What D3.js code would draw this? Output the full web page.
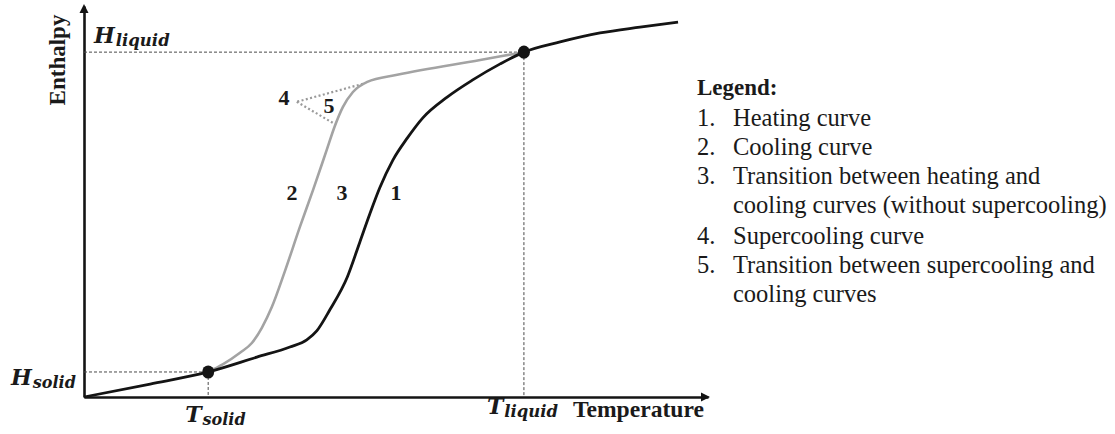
<!DOCTYPE html>
<html>
<head>
<meta charset="utf-8">
<script src="https://cdn.jsdelivr.net/npm/d3@7"></script>
<style>
  html, body { margin: 0; padding: 0; background: #fff; }
  svg { display: block; }
</style>
</head>
<body>
<svg id="chart" width="1115" height="434"></svg>
<script>
// Curve 1: heating curve (temperature, enthalpy), arbitrary units
const heatingT = [0, 10.6, 19.9, 27.7, 33.0, 35.7, 37.3, 39.4, 42.2, 44.2, 45.8, 47.4, 49.5, 51.8, 54.3, 58.2, 62.3, 66.7, 70.5, 76.3, 82.7, 89.1, 95.2];
const heatingH = [0, 3.3, 6.4, 10.2, 12.8, 14.6, 16.9, 22.3, 30.7, 39.6, 46.8, 53.5, 60.6, 66.2, 71.4, 76.7, 81.1, 85.2, 88.2, 90.8, 93.1, 94.6, 95.9];

// Curve 2: cooling curve
const coolingT = [19.9, 22.3, 25.0, 26.9, 28.5, 30.1, 32.2, 34.6, 36.7, 38.9, 40.2, 41.5, 43.1, 45.4, 50.2, 63.5, 70.5];
const coolingH = [6.4, 8.4, 11.3, 13.8, 17.7, 23.0, 32.2, 43.5, 52.9, 63.2, 69.3, 74.2, 78.0, 80.6, 82.4, 86.2, 88.2];

// Curve 4: supercooling, curve 5: return to the cooling curve
const superT = [44.7, 34.1];
const superH = [80.1, 75.5];
const returnT = [34.1, 40.2];
const returnH = [75.5, 69.8];

// Solidus / liquidus points
const solidT = 19.9, solidH = 6.4;
const liquidT = 70.5, liquidH = 88.2;

// Curve numbers drawn next to the curves
const curveNumbers = ["1", "2", "3", "4", "5"];

const legendTitle = "Legend:";
const legendNums = ["1.", "2.", "3.", "", "4.", "5.", ""];
const legendLines = [
  "Heating curve",
  "Cooling curve",
  "Transition between heating and",
  "cooling curves (without supercooling)",
  "Supercooling curve",
  "Transition between supercooling and",
  "cooling curves"
];

const svg = d3.select("#chart");

const x = d3.scaleLinear().domain([0, 100]).range([84, 708]);
const y = d3.scaleLinear().domain([0, 100]).range([397, 6]);

const black = "#141414";
const grey = "#a3a3a3";

// Axes: bare lines without ticks, arrowheads at the ends
svg.append("g")
  .attr("transform", `translate(0,${y(0)})`)
  .call(d3.axisBottom(x).tickValues([]).tickSizeOuter(0))
  .call(g => g.select(".domain").attr("stroke", black).attr("stroke-width", 2.6));
svg.append("g")
  .attr("transform", `translate(${x(0)},0)`)
  .call(d3.axisLeft(y).tickValues([]).tickSizeOuter(0))
  .call(g => g.select(".domain").attr("stroke", black).attr("stroke-width", 2.6));

svg.append("path")
  .attr("d", `M${x(100) + 2},${y(0)} l-9,-4.5 l0,9 z`)
  .attr("fill", black);
svg.append("path")
  .attr("d", `M${x(0)},${y(100) - 2} l-4.5,9 l9,0 z`)
  .attr("fill", black);

// Dashed guide lines to the solidus / liquidus points
const guide = svg.append("g")
  .attr("stroke", "#4a4a4a")
  .attr("stroke-width", 1)
  .attr("stroke-dasharray", "3,2")
  .attr("fill", "none");
guide.append("line").attr("x1", x(0)).attr("x2", x(liquidT)).attr("y1", y(liquidH)).attr("y2", y(liquidH));
guide.append("line").attr("x1", x(liquidT)).attr("x2", x(liquidT)).attr("y1", y(liquidH)).attr("y2", y(0));
guide.append("line").attr("x1", x(0)).attr("x2", x(solidT)).attr("y1", y(solidH)).attr("y2", y(solidH));
guide.append("line").attr("x1", x(solidT)).attr("x2", x(solidT)).attr("y1", y(solidH)).attr("y2", y(0));

const line = d3.line()
  .x(d => x(d[0]))
  .y(d => y(d[1]))
  .curve(d3.curveMonotoneX);
const straight = d3.line()
  .x(d => x(d[0]))
  .y(d => y(d[1]));

// Supercooling (4) and transition (5), dotted grey
svg.append("path")
  .attr("d", straight(d3.zip(superT, superH)))
  .attr("fill", "none").attr("stroke", "#9a9a9a")
  .attr("stroke-width", 2.2).attr("stroke-dasharray", "2,2.4");
svg.append("path")
  .attr("d", straight(d3.zip(returnT, returnH)))
  .attr("fill", "none").attr("stroke", "#9a9a9a")
  .attr("stroke-width", 2.2).attr("stroke-dasharray", "2,2.4");

// Cooling curve (2)
svg.append("path")
  .attr("d", line(d3.zip(coolingT, coolingH)))
  .attr("fill", "none").attr("stroke", grey)
  .attr("stroke-width", 2.6).attr("stroke-linejoin", "round");

// Heating curve (1)
svg.append("path")
  .attr("d", line(d3.zip(heatingT, heatingH)))
  .attr("fill", "none").attr("stroke", black)
  .attr("stroke-width", 2.8).attr("stroke-linejoin", "round");

// Solidus / liquidus markers
svg.selectAll("ellipse.pt")
  .data([[solidT, solidH], [liquidT, liquidH]])
  .join("ellipse")
  .attr("class", "pt")
  .attr("cx", d => x(d[0])).attr("cy", d => y(d[1]))
  .attr("rx", 6).attr("ry", 6.6)
  .attr("fill", black);

// Symbol labels: H_liquid, H_solid, T_solid, T_liquid
function symbol(px, py, main, sub, size, subSize, dy) {
  const t = svg.append("text")
    .attr("x", px).attr("y", py)
    .attr("font-family", "'DejaVu Serif', serif")
    .attr("font-weight", "bold")
    .attr("font-style", "italic")
    .attr("font-size", size)
    .attr("fill", "#1a1a1a");
  t.append("tspan").text(main);
  t.append("tspan").attr("dy", dy).attr("dx", 1).attr("font-size", subSize).text(sub);
}
symbol(x(0) + 10, y(liquidH) - 9, "H", "liquid", 22, 16.5, 3);
symbol(x(0) - 73, y(solidH) + 13, "H", "solid", 22, 16, 3);
symbol(x(solidT) - 23, 422, "T", "solid", 22, 16, 3);
symbol(x(liquidT) - 37, 414, "T", "liquid", 22, 16.5, 3);

// Axis titles
svg.append("text")
  .attr("transform", `translate(${x(0) - 19},${y(100) + 54}) rotate(-90)`)
  .attr("text-anchor", "middle")
  .attr("font-family", "'Liberation Serif', 'Times New Roman', serif")
  .attr("font-weight", "bold")
  .attr("font-size", 23)
  .attr("fill", "#1a1a1a")
  .text("Enthalpy");
svg.append("text")
  .attr("x", x(liquidT) + 49).attr("y", 417)
  .attr("font-family", "'Liberation Serif', 'Times New Roman', serif")
  .attr("font-weight", "bold")
  .attr("font-size", 23.6)
  .attr("fill", "#1a1a1a")
  .text("Temperature");

// Curve numbers
const numberPos = [[396, 200], [292, 200], [342, 200], [284, 105], [329, 113]];
svg.selectAll("text.num")
  .data(curveNumbers)
  .join("text")
  .attr("class", "num")
  .attr("x", (d, i) => numberPos[i][0])
  .attr("y", (d, i) => numberPos[i][1])
  .attr("text-anchor", "middle")
  .attr("font-family", "'Liberation Serif', 'Times New Roman', serif")
  .attr("font-weight", "bold")
  .attr("font-size", 22)
  .attr("fill", "#1a1a1a")
  .text(d => d);

// Legend
const legend = svg.append("g")
  .attr("font-family", "'Liberation Serif', 'Times New Roman', serif")
  .attr("fill", "#1a1a1a");
legend.append("text")
  .attr("x", 697).attr("y", 95)
  .attr("font-weight", "bold").attr("font-size", 23)
  .text(legendTitle);
const legendY = [126, 155, 184, 213, 244, 273, 302];
legend.selectAll("text.ln")
  .data(legendNums)
  .join("text")
  .attr("class", "ln")
  .attr("x", 697).attr("y", (d, i) => legendY[i])
  .attr("font-size", 24.5)
  .text(d => d);
legend.selectAll("text.lt")
  .data(legendLines)
  .join("text")
  .attr("class", "lt")
  .attr("x", 733).attr("y", (d, i) => legendY[i])
  .attr("font-size", 24.5)
  .text(d => d);
</script>
</body>
</html>
